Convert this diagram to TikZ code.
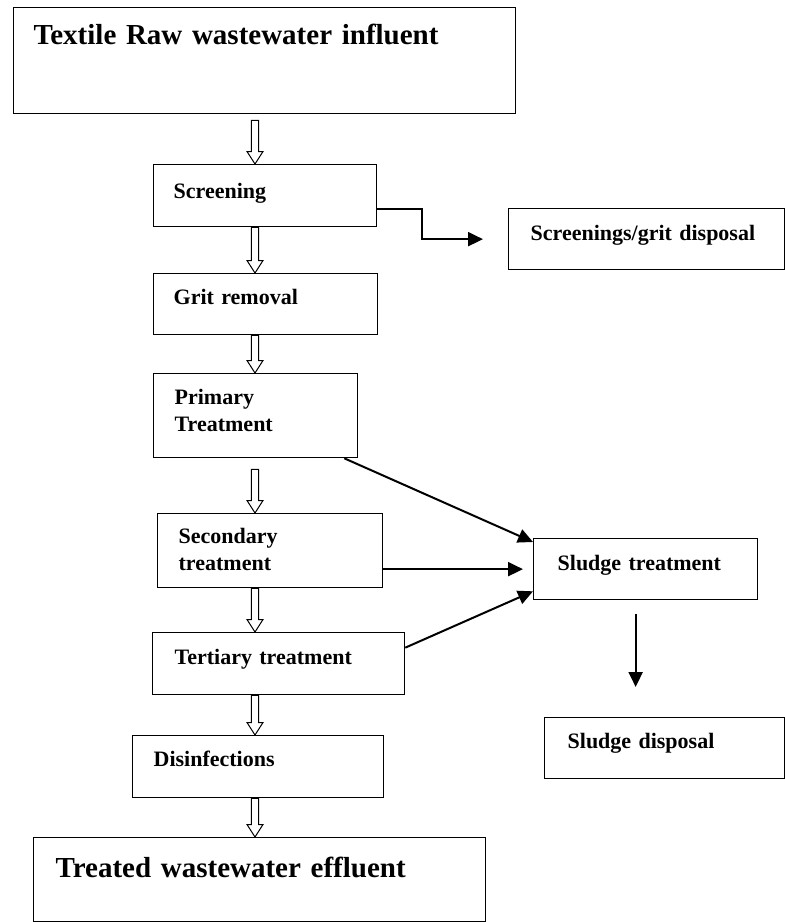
\documentclass[tikz,border=0pt]{standalone}
\usepackage{fontspec}
\setmainfont{Liberation Serif}
\usetikzlibrary{arrows.meta, calc}

% open block arrow between two stages, on the common axis
\newcommand{\hollowarrow}[3][0]{%
\draw[hollow] let \p1=(#2.south), \p2=(#3.north), \p3=(axis) in
 (\x3-3.7pt,\y1-#1pt) -- (\x3-3.7pt,\y2+12.5pt) -- (\x3-8pt,\y2+12.5pt) -- (\x3,\y2)
 -- (\x3+8pt,\y2+12.5pt) -- (\x3+3.7pt,\y2+12.5pt) -- (\x3+3.7pt,\y1-#1pt) -- cycle;}

\begin{document}
\begin{tikzpicture}[x=1pt, y=-1pt]
\tikzstyle{stage}=[draw, line width=1.3pt, rectangle, anchor=north west, align=left, inner ysep=0pt, font=\bfseries\fontsize{22}{27}\selectfont]
\tikzstyle{big}=[font=\bfseries\fontsize{29}{35}\selectfont]
\tikzstyle{flow}=[line width=2pt, -{Triangle[length=15pt, width=14pt]}]
\tikzstyle{hollow}=[line width=1pt, fill=white]
\useasboundingbox (0,0) rectangle (785,922);
\coordinate (axis) at (255,0);

% main line
\path (13,7) node[stage, big, inner xsep=20pt, text width=462pt, text height=37pt, text depth=69pt] (influent) {Textile Raw wastewater influent};
\path (153,164) node[stage, inner xsep=20pt, text width=183pt, text height=34pt, text depth=28pt] (screen) {Screening};
\path (153,273) node[stage, inner xsep=20pt, text width=184pt, text height=31pt, text depth=30pt] (grit) {Grit removal};
\path (153,373) node[stage, inner xsep=21pt, text width=162pt, text height=31pt, text depth=53pt] (primary) {Primary\\Treatment};
\path (157,513) node[stage, inner xsep=21pt, text width=183pt, text height=30pt, text depth=44pt] (secondary) {Secondary\\treatment};
\path (152,632) node[stage, inner xsep=22pt, text width=208pt, text height=32pt, text depth=30pt] (tertiary) {Tertiary treatment};
\path (132,735) node[stage, inner xsep=21pt, text width=209pt, text height=31pt, text depth=31pt] (disinfect) {Disinfections};
\path (33,837) node[stage, big, inner xsep=22pt, text width=408pt, text height=40pt, text depth=44pt] (effluent) {Treated wastewater effluent};

% side line
\path (508,208) node[stage, inner xsep=22pt, text width=232pt, text height=32pt, text depth=29pt] (scrdisp) {Screenings/grit disposal};
\path (533,538) node[stage, inner xsep=24pt, text width=176pt, text height=32pt, text depth=29pt] (sludge) {Sludge treatment};
\path (544,717) node[stage, inner xsep=23pt, text width=194pt, text height=31pt, text depth=30pt] (sdisp) {Sludge disposal};

\hollowarrow[6]{influent}{screen}
\hollowarrow{screen}{grit}
\hollowarrow{grit}{primary}
\hollowarrow[11]{primary}{secondary}
\hollowarrow{secondary}{tertiary}
\hollowarrow{tertiary}{disinfect}
\hollowarrow{disinfect}{effluent}

\draw[flow] ([yshift=-13pt]screen.east) -- ++(45,0) |- ([xshift=-25pt]scrdisp.west);
\draw[flow] ([xshift=-14pt]primary.south east) -- ([yshift=-4pt]sludge.north west);
\draw[flow] (secondary.east |- sludge.west) -- ([xshift=-10pt]sludge.west);
\draw[flow] ([yshift=16pt]tertiary.east) -- ([yshift=9pt]sludge.south west);
\draw[flow] ([xshift=-10pt,yshift=-14pt]sludge.south) -- ([xshift=-10pt,yshift=30pt]sludge.south |- sdisp.north);
\end{tikzpicture}
\end{document}
